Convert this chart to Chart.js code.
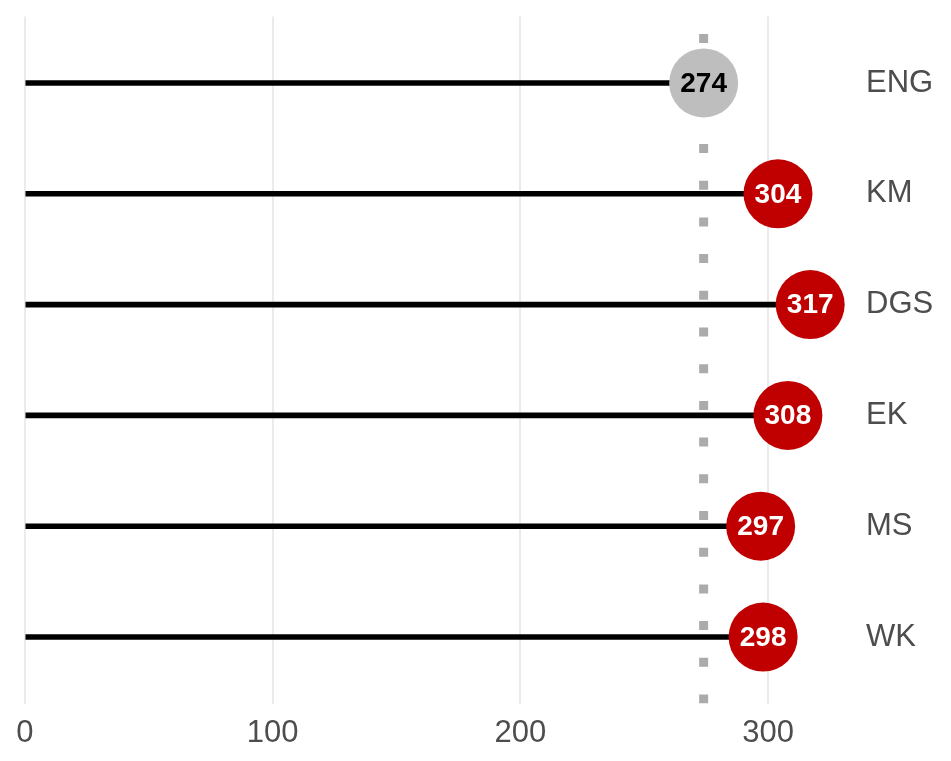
<!DOCTYPE html>
<html>
<head>
<meta charset="utf-8">
<script src="https://cdn.jsdelivr.net/npm/chart.js@4"></script>
<style>
  html, body { margin: 0; padding: 0; background: #fff; }
  #wrap { width: 951px; height: 761px; }
</style>
</head>
<body>
<div id="wrap"><canvas id="mainChart"></canvas></div>
<script>
const categories = ['ENG', 'KM', 'DGS', 'EK', 'MS', 'WK'];
const scores = [274, 304, 317, 308, 297, 298];
const referenceValue = 274;
const xTicks = [0, 100, 200, 300];

const txtColor = '#4d4d4d';
const fontFam = '"Liberation Sans", Arial, sans-serif';

// punt warna: ENG abu-abu, sisanya merah
const pointColors = categories.map(c => c === 'ENG' ? '#bebebe' : '#c00000');
const labelColors = categories.map(c => c === 'ENG' ? '#000000' : '#ffffff');

const valueLabels = {
    id: 'valueLabels',
    afterDatasetsDraw(chart) {
        const meta = chart.getDatasetMeta(2);
        const c = chart.ctx;
        c.save();
        c.font = 'bold 28px ' + fontFam;
        c.textAlign = 'center';
        c.textBaseline = 'middle';
        meta.data.forEach((pt, i) => {
            c.fillStyle = labelColors[i];
            c.fillText(String(scores[i]), pt.x, pt.y + 1);
        });
        c.restore();
    }
};

document.addEventListener("DOMContentLoaded", () => {
    const ctx = document.getElementById('mainChart');

    new Chart(ctx, {
        type: 'scatter',
        data: {
            datasets: [
                {
                    // garis referensi putus-putus, digambar dari bawah ke atas
                    type: 'line',
                    data: [{ x: referenceValue, y: 5.6 }, { x: referenceValue, y: -0.6 }],
                    borderColor: '#ababab',
                    borderWidth: 9,
                    borderDash: [9, 27.7],
                    pointRadius: 0,
                    order: 3
                },
                {
                    type: 'bar',
                    indexAxis: 'y',
                    data: scores.map((v, i) => ({ x: [0, v], y: i })),
                    backgroundColor: '#000000',
                    barThickness: 5,
                    order: 2
                },
                {
                    type: 'scatter',
                    data: scores.map((v, i) => ({ x: v, y: i })),
                    backgroundColor: pointColors,
                    borderWidth: 0,
                    pointRadius: 34.5,
                    pointHoverRadius: 34.5,
                    order: 1
                }
            ]
        },
        options: {
            responsive: true,
            maintainAspectRatio: false,
            animation: false,
            events: [],
            layout: {
                autoPadding: false,
                padding: { top: 16.5, left: 5, right: 0, bottom: 10 }
            },
            plugins: {
                legend: { display: false },
                tooltip: { enabled: false }
            },
            scales: {
                x: {
                    type: 'linear',
                    offset: false,
                    min: -8,
                    max: 336.3,
                    afterBuildTicks: s => { s.ticks = xTicks.map(v => ({ value: v })); },
                    afterFit: s => { s.height = 47.5; s.paddingLeft = 0; s.paddingRight = 0; },
                    ticks: {
                        color: txtColor,
                        font: { size: 31, family: fontFam },
                        padding: 11.5
                    },
                    grid: {
                        offset: false,
                        color: '#ebebeb',
                        lineWidth: 2,
                        drawTicks: false
                    },
                    border: { display: false }
                },
                y: {
                    type: 'linear',
                    position: 'right',
                    offset: false,
                    reverse: true,
                    min: -0.6,
                    max: 5.6,
                    afterBuildTicks: s => { s.ticks = categories.map((c, i) => ({ value: i })); },
                    afterFit: s => { s.width = 93; s.paddingTop = 0; s.paddingBottom = 0; },
                    ticks: {
                        color: txtColor,
                        font: { size: 31, family: fontFam },
                        padding: 8,
                        callback: v => categories[v]
                    },
                    grid: { display: false, offset: false, drawTicks: false },
                    border: { display: false }
                }
            }
        },
        plugins: [valueLabels]
    });
});
</script>
</body>
</html>
